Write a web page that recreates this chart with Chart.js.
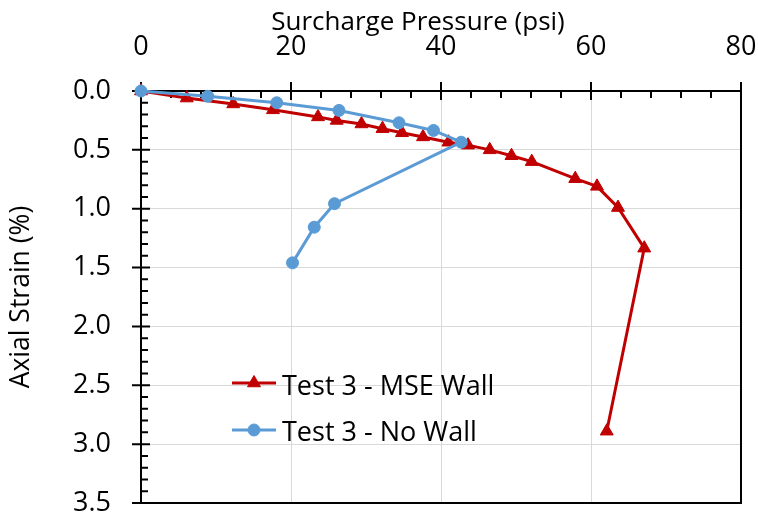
<!DOCTYPE html>
<html><head><meta charset="utf-8">
<script src="https://cdn.jsdelivr.net/npm/chart.js@4.4.1/dist/chart.umd.min.js"></script>
<style>html,body{margin:0;padding:0;background:#fff;}#wrap{width:758px;height:516px;position:relative;}</style>
</head><body><div id="wrap"><canvas id="c" width="758" height="516"></canvas></div>
<script>
const xTitle = 'Surcharge Pressure (psi)';
const yTitle = 'Axial Strain (%)';
const mseLabel = 'Test 3 - MSE Wall';
const noWallLabel = 'Test 3 - No Wall';
const msePressure = [0, 6.1, 12.3, 17.6, 23.6, 26.1, 29.4, 32.2, 34.8, 37.6, 41.0, 43.6, 46.5, 49.4, 52.1, 57.9, 60.8, 63.6, 67.1, 62.1];
const mseStrain   = [0, 0.06, 0.11, 0.16, 0.22, 0.25, 0.28, 0.32, 0.355, 0.39, 0.435, 0.46, 0.50, 0.55, 0.60, 0.745, 0.81, 0.99, 1.335, 2.89];
const noWallPressure = [0, 8.9, 18.1, 26.4, 34.4, 39.0, 42.7, 25.8, 23.1, 20.2];
const noWallStrain   = [0, 0.045, 0.10, 0.165, 0.27, 0.335, 0.435, 0.957, 1.157, 1.46];
const xTicks = [0, 20, 40, 60, 80];
const yTicks = [0.0, 0.5, 1.0, 1.5, 2.0, 2.5, 3.0, 3.5];

const FONT = '"Open Sans", Lato, sans-serif';
const RED = '#C00000', BLUE = '#5B9BD5';
const pts = (xs, ys) => xs.map((v, i) => ({x: v, y: ys[i]}));

const axisTicks = {
  id: 'axisTicks',
  beforeDatasetsDraw(chart) {
    const {ctx, chartArea: a, scales: {x, y}} = chart;
    ctx.save();
    ctx.strokeStyle = '#000'; ctx.lineWidth = 2;
    ctx.beginPath();
    ctx.moveTo(a.right, a.top); ctx.lineTo(a.right, a.bottom); ctx.lineTo(a.left, a.bottom);
    ctx.stroke();
    ctx.beginPath();
    for (let i = 0; i <= 20; i++) {
      const px = x.getPixelForValue(i * 4);
      const major = i % 5 === 0;
      ctx.moveTo(px, a.top - (major ? 9 : 0)); ctx.lineTo(px, a.top + (major ? 9 : 7));
    }
    for (let i = 0; i <= 35; i++) {
      const py = y.getPixelForValue(i / 10);
      const major = i % 5 === 0;
      ctx.moveTo(a.left - (major ? 9 : 0), py); ctx.lineTo(a.left + (major ? 9 : 7), py);
    }
    ctx.stroke();
    ctx.restore();
  }
};

const overlay = {
  id: 'overlay',
  afterDraw(chart) {
    const {ctx} = chart;
    ctx.save();
    ctx.fillStyle = '#000';
    ctx.font = '26px ' + FONT;
    ctx.textAlign = 'center'; ctx.textBaseline = 'alphabetic';
    ctx.fillText(xTitle, 418, 30);
    // legend
    const rows = [[chart.data.datasets[0], 383, 395], [chart.data.datasets[1], 430, 441]];
    ctx.textAlign = 'left';
    ctx.font = '27px ' + FONT;
    rows.forEach(([ds, cy, by]) => {
      ctx.strokeStyle = ds.borderColor; ctx.lineWidth = 3;
      ctx.beginPath(); ctx.moveTo(232, cy); ctx.lineTo(276, cy); ctx.stroke();
      ctx.fillStyle = ds.backgroundColor; ctx.strokeStyle = ds.borderColor; ctx.lineWidth = 1;
      Chart.helpers.drawPoint(ctx, {pointStyle: ds.pointStyle, radius: ds.pointRadius, rotation: 0, borderWidth: 1}, 254, cy);
      ctx.fillStyle = '#000';
      ctx.fillText(ds.label, 282, by);
    });
    ctx.restore();
  }
};

new Chart(document.getElementById('c'), {
  type: 'scatter',
  data: {
    datasets: [
      {label: mseLabel, data: pts(msePressure, mseStrain), showLine: true, borderColor: RED, backgroundColor: RED,
       borderWidth: 3, pointStyle: 'triangle', pointRadius: 7.5, pointHoverRadius: 7.5, pointBorderWidth: 1, clip: false, order: 2},
      {label: noWallLabel, data: pts(noWallPressure, noWallStrain), showLine: true, borderColor: BLUE, backgroundColor: BLUE,
       borderWidth: 3, pointStyle: 'circle', pointRadius: 6, pointHoverRadius: 6, pointBorderWidth: 1, clip: false, order: 1}
    ]
  },
  options: {
    responsive: false, animation: false,
    layout: {padding: {left: 0, top: 0, right: 17, bottom: 13}},
    plugins: {legend: {display: false}, tooltip: {enabled: false}},
    scales: {
      x: {
        type: 'linear', position: 'top', min: 0, max: 80,
        afterBuildTicks: s => { s.ticks = xTicks.map(v => ({value: v})); },
        afterFit: s => { s.height = 91; s.paddingLeft = 0; s.paddingRight = 0; s.paddingTop = 0; s.paddingBottom = 0; },
        ticks: {padding: 27, color: '#000', font: {family: FONT, size: 27}, maxRotation: 0},
        grid: {color: '#d9d9d9', lineWidth: 1, drawTicks: false},
        border: {display: true, color: '#000', width: 2}
      },
      y: {
        type: 'linear', reverse: true, min: 0, max: 3.5,
        afterBuildTicks: s => { s.ticks = yTicks.map(v => ({value: v})); },
        afterFit: s => { s.width = 141; s.paddingLeft = 0; s.paddingRight = 0; s.paddingTop = 0; s.paddingBottom = 0; },
        ticks: {padding: 30, color: '#000', font: {family: FONT, size: 27}, callback: v => Number(v).toFixed(1)},
        grid: {color: '#d9d9d9', lineWidth: 1, drawTicks: false},
        border: {display: true, color: '#000', width: 2},
        title: {display: true, text: yTitle, color: '#000', font: {family: FONT, size: 26.5}, padding: {top: 6}}
      }
    }
  },
  plugins: [axisTicks, overlay]
});
</script></body></html>
